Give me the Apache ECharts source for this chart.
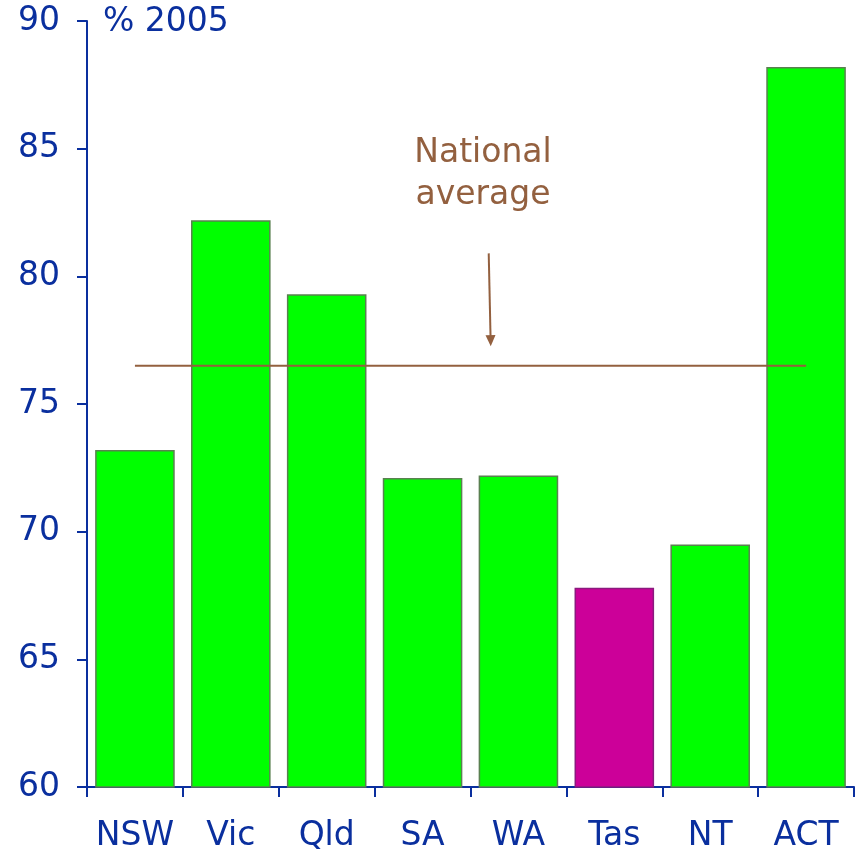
<!DOCTYPE html>
<html>
<head>
<meta charset="utf-8">
<script src="https://cdn.jsdelivr.net/npm/echarts@6/dist/echarts.min.js"></script>
<style>html,body{margin:0;padding:0;background:#fff;}#c{width:862px;height:853px;}</style>
</head>
<body>
<div id="c"></div>
<script>
const categories = ['NSW', 'Vic', 'Qld', 'SA', 'WA', 'Tas', 'NT', 'ACT'];
const values = [73.2, 82.2, 79.3, 72.1, 72.2, 67.8, 69.5, 88.2];
const highlighted = ['Tas'];
const nationalAverage = 76.5;
const arrowFrom = [3.69, 80.9];
const arrowTo = [3.71, 77.48];
const yTicks = [60, 65, 70, 75, 80, 85, 90];

const axisBlue = '#0A2F9E';
const brown = '#93603F';
const font = 'DejaVu Sans, Verdana, sans-serif';
const fs = 33;

const chart = echarts.init(document.getElementById('c'), null, {renderer: 'canvas'});
chart.setOption({
  animation: false,
  backgroundColor: '#ffffff',
  grid: {left: 87, right: 8, top: 21, bottom: 64, containLabel: false},
  xAxis: [{
    type: 'category',
    data: categories,
    boundaryGap: true,
    axisLine: {lineStyle: {color: axisBlue, width: 2}},
    axisTick: {show: true, length: 10, inside: false, interval: 0, lineStyle: {color: axisBlue, width: 2}},
    axisLabel: {color: axisBlue, fontSize: fs, fontFamily: font, margin: 33, interval: 0},
    splitLine: {show: false}
  }, {
    type: 'value',
    min: -0.5, max: 7.5,
    show: false
  }],
  yAxis: {
    type: 'value',
    min: yTicks[0], max: yTicks[yTicks.length - 1], interval: 5,
    axisLine: {show: true, onZero: false, lineStyle: {color: axisBlue, width: 2}},
    axisTick: {show: true, length: 10, lineStyle: {color: axisBlue, width: 2}},
    axisLabel: {color: axisBlue, fontSize: fs, fontFamily: font, margin: 27},
    splitLine: {show: false}
  },
  graphic: [
    {type: 'text', x: 103, y: 22, style: {text: '% 2005', fill: axisBlue, font: fs + 'px ' + font, textAlign: 'left', textVerticalAlign: 'middle'}},
    {type: 'text', x: 483, y: 153, style: {text: 'National', fill: brown, font: fs + 'px ' + font, textAlign: 'center', textVerticalAlign: 'middle'}},
    {type: 'text', x: 483, y: 195, style: {text: 'average', fill: brown, font: fs + 'px ' + font, textAlign: 'center', textVerticalAlign: 'middle'}}
  ],
  series: [{
    type: 'bar',
    xAxisIndex: 0,
    barWidth: '83%',
    data: values.map((v, i) => ({
      value: v,
      itemStyle: highlighted.includes(categories[i])
        ? {color: '#CC0099', borderColor: '#8A1A7E', borderWidth: 1.5}
        : {color: '#00FF00', borderColor: '#5A8050', borderWidth: 1.5}
    })),
    z: 2
  }, {
    type: 'line',
    xAxisIndex: 1,
    data: [[0, nationalAverage], [categories.length - 1, nationalAverage]],
    symbol: 'none',
    lineStyle: {color: brown, width: 2},
    z: 5,
    markLine: {
      silent: true,
      symbol: ['none', 'triangle'],
      symbolSize: [10, 11],
      label: {show: false},
      lineStyle: {color: brown, width: 2, type: 'solid'},
      data: [[{coord: arrowFrom}, {coord: arrowTo}]]
    }
  }]
});
</script>
</body>
</html>
